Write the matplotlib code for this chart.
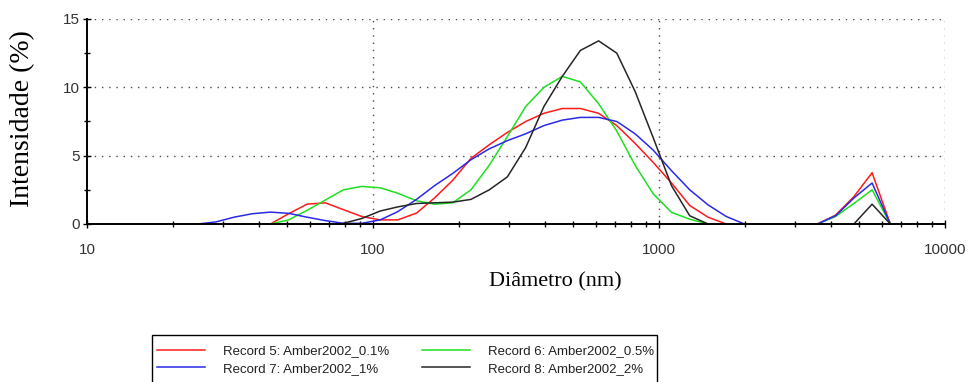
import numpy as np
import matplotlib
matplotlib.use("Agg")
import matplotlib.pyplot as plt
from matplotlib.patches import Rectangle
from matplotlib.ticker import FixedLocator, NullFormatter

# Size classes (nm) of the DLS intensity distribution
diam = [24.4, 28.2, 32.7, 37.8, 43.8, 50.7, 58.8, 68.1, 78.8, 91.3,
        106, 122, 142, 164, 190, 220, 255, 295, 342, 396,
        459, 531, 615, 712, 825, 955, 1106, 1281, 1484, 1718,
        1990, 2305, 2669, 3091, 3580, 4145, 4801, 5560, 6439]

nan = np.nan
# Intensity (%) per size class for each record
rec5 = [nan, nan, nan, nan, 0.0, 0.75, 1.45, 1.55, 1.05, 0.55,
        0.3, 0.3, 0.8, 1.9, 3.2, 4.8, 5.8, 6.7, 7.5, 8.1,
        8.45, 8.45, 8.1, 7.2, 5.9, 4.5, 3.0, 1.35, 0.5, 0.0,
        nan, nan, nan, nan, 0.0, 0.65, 2.0, 3.75, 0.0]
rec6 = [nan, nan, nan, nan, 0.0, 0.3, 1.0, 1.75, 2.5, 2.75,
        2.65, 2.25, 1.7, 1.45, 1.55, 2.5, 4.3, 6.4, 8.6, 10.0,
        10.8, 10.4, 8.8, 6.8, 4.3, 2.2, 0.85, 0.35, 0.0, nan,
        nan, nan, nan, nan, 0.0, 0.55, 1.5, 2.5, 0.0]
rec7 = [0.0, 0.15, 0.5, 0.75, 0.87, 0.78, 0.5, 0.25, 0.05, 0.05,
        0.3, 0.9, 1.8, 2.8, 3.7, 4.7, 5.5, 6.1, 6.6, 7.2,
        7.6, 7.8, 7.8, 7.5, 6.6, 5.4, 3.9, 2.5, 1.4, 0.55,
        0.0, nan, nan, nan, 0.0, 0.6, 1.9, 3.0, 0.0]
rec8 = [nan, nan, nan, nan, nan, nan, nan, nan, 0.05, 0.4,
        0.95, 1.25, 1.5, 1.55, 1.6, 1.8, 2.5, 3.45, 5.6, 8.6,
        10.8, 12.7, 13.4, 12.5, 9.7, 6.3, 2.8, 0.6, 0.0, nan,
        nan, nan, nan, nan, nan, nan, 0.0, 1.45, 0.0]

labels = ["Record 5: Amber2002_0.1%", "Record 6: Amber2002_0.5%",
          "Record 7: Amber2002_1%", "Record 8: Amber2002_2%"]
colors = ["#ff1a1a", "#1ee01e", "#2a2ae6", "#262626"]
series = [rec5, rec6, rec7, rec8]

x_major = [10, 100, 1000, 10000]
y_major = [0, 5, 10, 15]

fig = plt.figure(figsize=(9.71, 3.82), dpi=100)
W, H = 971, 382
ax = fig.add_axes([87 / W, 1 - 224 / H, 858 / W, 205 / H])

x = np.array(diam)
handles = []
for vals, c, lab in zip(series, colors, labels):
    (h,) = ax.plot(x, np.array(vals, dtype=float), color=c, lw=1.1, label=lab)
    handles.append(h)

ax.set_xscale("log")
ax.set_xlim(10, 10000)
ax.set_ylim(0, 15)

ax.xaxis.set_major_locator(FixedLocator(x_major))
ax.set_xticklabels([str(v) for v in x_major])
minor_x = [m * d for d in (10, 100, 1000) for m in range(2, 10)]
ax.xaxis.set_minor_locator(FixedLocator(minor_x))
ax.xaxis.set_minor_formatter(NullFormatter())
ax.yaxis.set_major_locator(FixedLocator(y_major))
ax.yaxis.set_minor_locator(FixedLocator([2.5, 7.5, 12.5]))

for lab in ax.get_xticklabels() + ax.get_yticklabels():
    lab.set_fontfamily("Liberation Sans")
    lab.set_fontsize(11)
    lab.set_color("#333333")

ax.tick_params(axis="both", which="both", direction="inout", color="black", width=1.0)
ax.tick_params(axis="x", which="major", length=6, pad=11)
ax.tick_params(axis="x", which="minor", length=5)
ax.tick_params(axis="y", which="major", length=6, pad=2)
ax.tick_params(axis="y", which="minor", length=5)

for side in ("top", "right"):
    ax.spines[side].set_visible(False)
for side in ("left", "bottom"):
    ax.spines[side].set_linewidth(1.4)
    ax.spines[side].set_color("black")

# dotted reference lines
dot = dict(color="#4a4a4a", lw=1.0, linestyle=(0, (1, 4.2)), zorder=0.5)
for yv in y_major[1:]:
    ax.axhline(yv, **dot)
for xv in x_major[1:]:
    ax.axvline(xv, **dot)

fig.text(23 / W, 1 - 119 / H, "Intensidade (%)", family="Liberation Serif",
         fontsize=20, rotation=90, ha="center", va="center")
fig.text(555 / W, 1 - 282 / H, "Diâmetro (nm)", family="Liberation Serif",
         fontsize=16, ha="center", va="center")

# legend box running off the bottom edge
fig.patches.append(Rectangle((152 / W, -0.05), 505 / W, 0.05 + 1 - 335 / H,
                             transform=fig.transFigure, fill=False,
                             edgecolor="black", lw=1.0))
leg = fig.legend(handles=[handles[0], handles[2], handles[1], handles[3]],
                 labels=[labels[0], labels[2], labels[1], labels[3]],
                 ncol=2, loc="upper left",
                 bbox_to_anchor=(157 / W, 1 - 345 / H),
                 frameon=False,
                 prop=dict(family="Liberation Sans", size=9.5),
                 handlelength=3.64, handletextpad=1.36, columnspacing=2.5,
                 borderpad=0, labelspacing=0.42, borderaxespad=0)
for t in leg.get_texts():
    t.set_color("#222222")

fig.savefig("out.png", dpi=100)
